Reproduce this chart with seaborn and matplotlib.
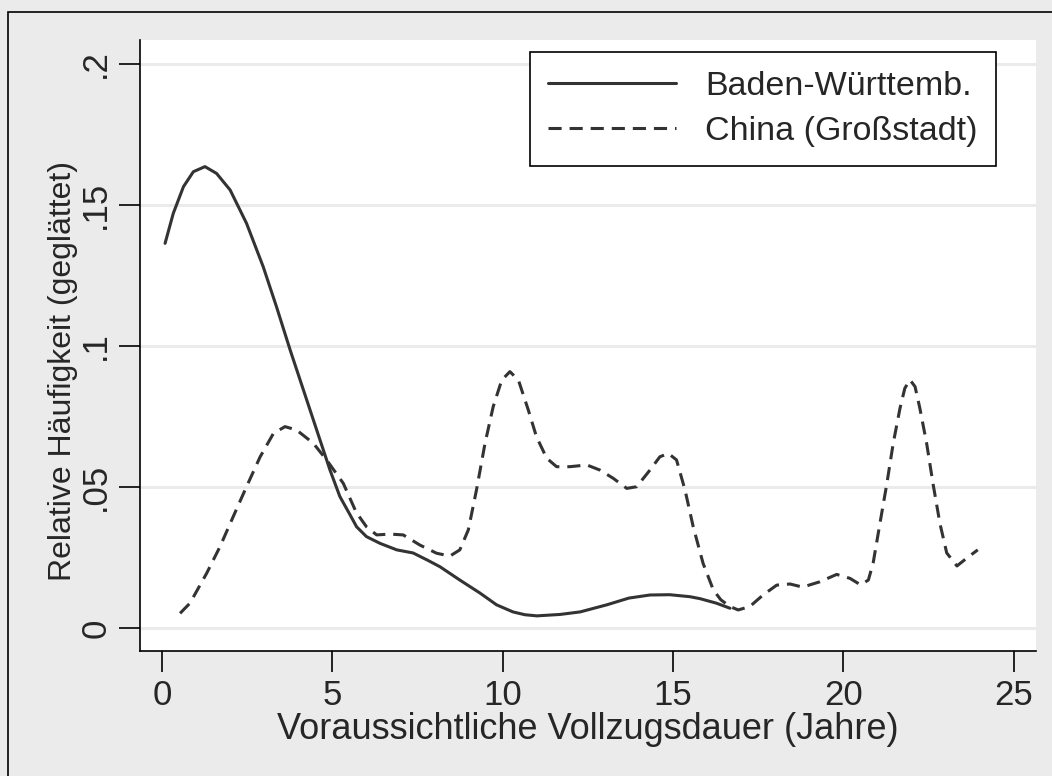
"""Smoothed relative frequency of expected sentence length, two samples."""

import matplotlib.pyplot as plt
import matplotlib.patches as mpatches
import pandas as pd
import seaborn as sns

# Baden-Württemberg (solid)
bw_years = [0.09, 0.33, 0.63, 0.92, 1.26, 1.6, 2.0, 2.48, 2.97, 3.36, 3.76, 4.15, 4.54,
            4.93, 5.22, 5.52, 5.71, 6.0, 6.4, 6.89, 7.37, 7.8, 8.16, 8.74, 9.33, 9.82,
            10.3, 10.65, 11.0, 11.68, 12.27, 13.05, 13.7, 14.32, 14.9, 15.49, 15.79,
            16.27, 16.67]
bw_values = [0.1364, 0.147, 0.1565, 0.1618, 0.1636, 0.1612, 0.1553, 0.1435, 0.1281,
             0.1139, 0.0986, 0.0844, 0.0702, 0.056, 0.0466, 0.0401, 0.0359, 0.0324,
             0.030, 0.0277, 0.0266, 0.024, 0.0217, 0.017, 0.0124, 0.0082, 0.0057,
             0.0047, 0.0043, 0.0048, 0.0057, 0.0082, 0.0106, 0.0117, 0.0118, 0.0111,
             0.0104, 0.0088, 0.007]

# China, Großstadt (dashed)
cn_years = [0.53, 0.82, 1.31, 1.7, 2.09, 2.48, 2.88, 3.27, 3.61, 3.95, 4.44, 4.83, 5.32,
            5.7, 6.0, 6.3, 6.69, 7.08, 7.57, 8.06, 8.45, 8.74, 8.99, 9.23, 9.48, 9.72,
            9.97, 10.21, 10.46, 10.75, 10.99, 11.29, 11.58, 11.97, 12.47, 12.85, 13.24,
            13.64, 13.93, 14.32, 14.61, 14.86, 15.1, 15.35, 15.59, 15.88, 16.18, 16.4,
            16.67, 16.91, 17.25, 17.64, 18.04, 18.43, 18.8, 19.31, 19.8, 20.19, 20.5,
            20.73, 20.87, 21.07, 21.27, 21.46, 21.66, 21.8, 21.95, 22.1, 22.24, 22.44,
            22.63, 22.83, 23.03, 23.33, 23.61, 23.94]
cn_values = [0.0052, 0.0088, 0.0194, 0.0288, 0.0395, 0.0501, 0.0607, 0.069, 0.0714,
             0.0702, 0.0655, 0.0596, 0.0513, 0.041, 0.0359, 0.033, 0.0333, 0.033, 0.0294,
             0.0265, 0.0255, 0.0277, 0.0348, 0.049, 0.0655, 0.0785, 0.0879, 0.0909,
             0.0879, 0.0773, 0.0678, 0.0602, 0.0572, 0.0572, 0.0578, 0.056, 0.0531,
             0.0495, 0.0501, 0.056, 0.0607, 0.0619, 0.0596, 0.0489, 0.0359, 0.0229,
             0.0135, 0.0100, 0.0076, 0.0064, 0.0076, 0.0117, 0.0152, 0.0156, 0.0145,
             0.0164, 0.019, 0.0176, 0.0153, 0.017, 0.023, 0.0371, 0.051, 0.0655, 0.078,
             0.085, 0.088, 0.0856, 0.078, 0.0655, 0.051, 0.0371, 0.0266, 0.022, 0.0247,
             0.0277]

labels = ["Baden-Württemb.", "China (Großstadt)"]
xticks = [0, 5, 10, 15, 20, 25]
yticks = [0, 0.05, 0.1, 0.15, 0.2]
yticklabels = ["0", ".05", ".1", ".15", ".2"]


def _main():
    sns.set_style("white")
    plt.rcParams["font.family"] = ["Liberation Sans", "DejaVu Sans"]
    bg = "#ebebeb"
    line_col = "#333333"
    dash = (4.3, 2.6)

    fig = plt.figure(figsize=(10.52, 7.76), dpi=100, facecolor=bg)
    ax = fig.add_axes([140 / 1052, 1 - 651 / 776, 896 / 1052, 611 / 776], facecolor="white")

    # outer frame: only left and top edges fall inside the image
    fig.patches.append(mpatches.Rectangle((8 / 1052, -0.5), 2.0, 0.5 + 764 / 776,
                                          transform=fig.transFigure, fill=False,
                                          edgecolor="black", linewidth=1.2))

    bw = pd.DataFrame({"x": bw_years, "y": bw_values})
    cn = pd.DataFrame({"x": cn_years, "y": cn_values})
    sns.lineplot(data=bw, x="x", y="y", ax=ax, color=line_col, linewidth=2.2,
                 label=labels[0], sort=False, solid_joinstyle="round")
    sns.lineplot(data=cn, x="x", y="y", ax=ax, color=line_col, linewidth=2.2,
                 label=labels[1], sort=False, dash_joinstyle="round")
    ax.lines[1].set_dashes(dash)

    ax.set_xlim(-0.646, 25.65)
    ax.set_ylim(-0.00816, 0.2085)
    ax.set_xticks(xticks)
    ax.set_yticks(yticks)
    ax.set_yticklabels(yticklabels, rotation=90, va="center")
    ax.tick_params(axis="both", labelsize=25, length=15, width=1.2, color="black",
                   direction="out", pad=5, left=True, bottom=True)
    ax.yaxis.grid(True, color=bg, linewidth=2.2)
    ax.xaxis.grid(False)
    for side in ["top", "right"]:
        ax.spines[side].set_visible(False)
    for side in ["left", "bottom"]:
        ax.spines[side].set_color("black")
        ax.spines[side].set_linewidth(1.2)

    ax.set_xlabel("Voraussichtliche Vollzugsdauer (Jahre)", fontsize=26, labelpad=0)
    ax.set_ylabel("Relative Häufigkeit (geglättet)", fontsize=23, labelpad=1)
    ax.yaxis.label.set_y(0.458)

    leg = ax.legend(loc="upper right", bbox_to_anchor=(0.9554, 0.9804), fontsize=24.5,
                    frameon=True, fancybox=False, edgecolor="black", facecolor="white",
                    framealpha=1, handlelength=3.75, borderpad=0.55, labelspacing=0.42,
                    handletextpad=0.85, borderaxespad=0)
    leg.get_frame().set_linewidth(1.2)
    leg.legend_handles[1].set_dashes(dash)

    fig.savefig("out.png", dpi=100, facecolor=bg)
    plt.close(fig)


if __name__ == "__main__":
    _main()
